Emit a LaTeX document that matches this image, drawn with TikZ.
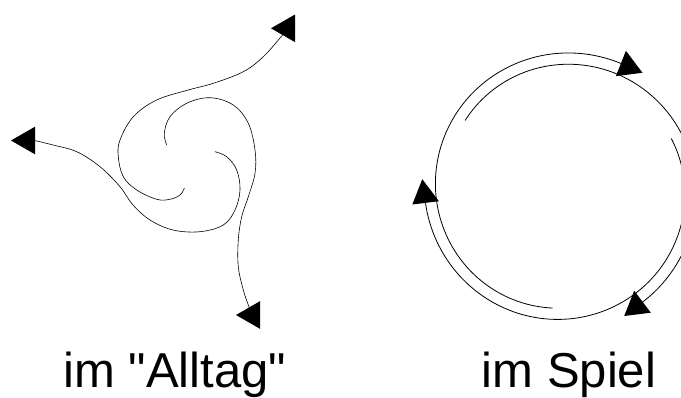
\documentclass[tikz,border=0pt]{standalone}
\usepackage{fontspec}
\setmainfont{Liberation Sans}
\begin{document}
\begin{tikzpicture}[x=1pt,y=-1pt,
  curve/.style={line width=0.6pt, line join=round, line cap=round},
  ring/.style={line width=0.8pt},
  lbl/.style={font=\fontsize{49}{55}\selectfont, inner sep=0pt, anchor=base west},
  ltri/.style={fill=black},
  rtri/.style={fill=black}]
\useasboundingbox (0,0) rectangle (681,397);
\begin{scope}
\clip (0,0) rectangle (681,397);
% ---------- left figure ----------
\coordinate (aA) at (295,28.3);
\coordinate (aB) at (35,140.5);
\coordinate (aC) at (260,315);
\draw[curve] plot[smooth, tension=0.6] coordinates {
  (184.3,188.3) (180,195) (170,199.3) (156.7,199.3) (136.7,190) (123.3,176.7)
  (118.3,156.7) (120,140) (133.3,116.7) (156.7,100) (188.3,90) (213.3,83.3)
  (243.3,71.7) (263.3,56.7) (281.7,36) (287,29)};
\draw[curve] plot[smooth, tension=0.6] coordinates {
  (215,151.7) (226.7,156.7) (236.7,170) (240,190) (235,210) (223.3,225)
  (200,231.7) (173,230) (150,220) (133,205) (120,186.7) (100,166.7)
  (76.7,151.7) (53,145) (35,140.7) (27,140.5)};
\draw[curve] plot[smooth, tension=0.6] coordinates {
  (166.7,145) (164.3,133.3) (170,116.7) (186.7,103.3) (210,97.7) (233.3,105)
  (248.3,123.3) (255,150) (255,173.3) (248.3,196.7) (241.7,216.7) (238.3,240)
  (238.3,266.7) (243.3,290) (248.3,305) (252,315)};
\foreach \c in {aA,aB,aC}
  \fill[ltri,shift={(\c)}] (-24,0) -- (0,-13.8) -- (0,13.8) -- cycle;
% ---------- right figure ----------
\foreach \s in {265,145,25}
  \draw[ring] plot[domain=0:203, samples=100, variable=\p]
    ({563+(119.5+0.094*\p)*cos(\s-\p)}, {189-(119.5+0.094*\p)*sin(\s-\p)});
\coordinate (eT) at (628.1,66.6);
\coordinate (eB) at (636.4,306.5);
\coordinate (eL) at (424.5,195.0);
\foreach \c in {eT,eB,eL}
  \fill[rtri,shift={(\c)}] (-2.2,-15.8) -- (-12.2,9.5) -- (14.4,6.2) -- cycle;
\end{scope}
% ---------- labels ----------
\node[lbl] (alltag) at (63.4,387) {im \textquotedbl Alltag\textquotedbl};
\node[lbl] (spiel) at (481.7,387) {im Spiel};
\end{tikzpicture}
\end{document}
